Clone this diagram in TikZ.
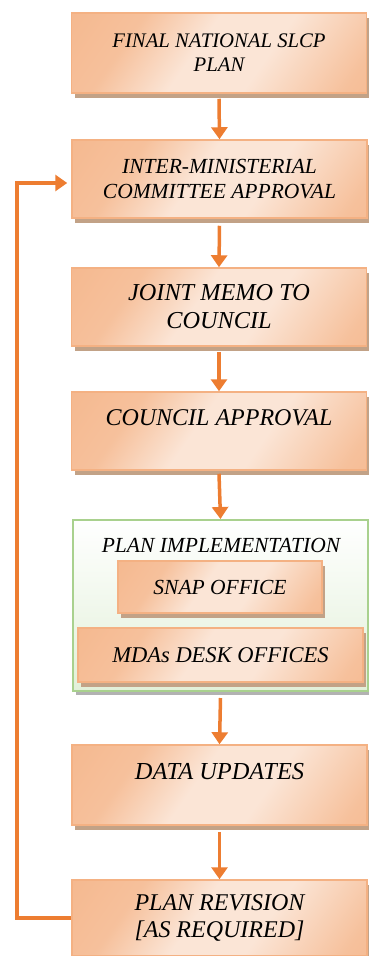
\documentclass[tikz,border=0pt]{standalone}
\usepackage{fontspec}
\setmainfont{Liberation Serif}
\usetikzlibrary{arrows.meta,positioning,shadows}
\definecolor{pdark}{HTML}{F4B183}
\definecolor{plight}{HTML}{FBE5D6}
\definecolor{pshadow}{HTML}{C2A287}
\definecolor{flowc}{HTML}{ED7D31}
\definecolor{gline}{HTML}{A9D18E}
\definecolor{gfill}{HTML}{E2F0D9}
\pgfdeclarehorizontalshading{peach}{100bp}{color(0bp)=(pdark); color(30bp)=(pdark!70!plight); color(45bp)=(plight); color(60bp)=(plight); color(80bp)=(pdark!70!plight); color(100bp)=(pdark)}
\newcommand{\boxfont}[1]{\rmfamily\itshape\fontsize{#1}{1.15\dimexpr #1pt\relax}\selectfont}
\tikzset{
  stepbox/.style={draw=pdark,line width=1.5pt,shading=peach,shading angle=-35,
    minimum width=295pt,minimum height=78pt,align=center,inner sep=2pt,
    font=\boxfont{24},
    drop shadow={shadow xshift=3pt,shadow yshift=-4.5pt,fill=pshadow,opacity=1}},
  subbox/.style={stepbox,minimum height=52pt,font=\boxfont{21.5}},
  groupbox/.style={draw=gline,line width=2pt,top color=white,bottom color=gfill,
    minimum width=295pt,minimum height=171pt,
    drop shadow={shadow xshift=3pt,shadow yshift=-4pt,fill=black!30,opacity=1}},
  flow/.style={draw=flowc,line width=3.5pt,-{Triangle[width=16pt,length=12pt]}},
}
\begin{document}
\begin{tikzpicture}[x=1pt,y=-1pt]
\useasboundingbox (0,0) rectangle (369,956);
% main chain of steps
\node[stepbox,minimum height=80pt,font=\boxfont{20.7}] (final) at (219,53) {FINAL NATIONAL SLCP\\PLAN};
\node[stepbox,font=\boxfont{21.5}] (imc) at (219.5,179) {INTER-MINISTERIAL\\COMMITTEE APPROVAL};
\node[stepbox,font=\boxfont{24.3}] (memo) at (219,307) {JOINT MEMO TO\\COUNCIL};
\node[stepbox] (council) at (219,431) {COUNCIL APPROVAL\\\mbox{}};
% implementation group
\node[groupbox] (impl) at (220.5,605.5) {};
\node[font=\boxfont{21.5}] (impltitle) at (221,545) {PLAN IMPLEMENTATION};
\node[subbox,minimum width=204pt] (snap) at (220,587) {SNAP OFFICE};
\node[subbox,minimum width=285pt,minimum height=54pt,font=\boxfont{22.5}] (mda) at (220.5,655) {MDAs DESK OFFICES};
\node[stepbox,minimum height=80pt,font=\boxfont{24.4}] (data) at (219.5,785) {DATA UPDATES\\\mbox{}};
\node[stepbox,minimum height=76pt] (rev) at (219.5,918) {PLAN REVISION\\{[AS REQUIRED]}};
% connectors
\draw[flow] (final.south) ++(0,5) -- (imc.north);
\draw[flow] (imc.south) ++(0,7) -- (memo.north);
\draw[flow] (memo.south) ++(0,5) -- (council.north);
\draw[flow] (council.south) ++(0,3) -- (impl.north);
\draw[flow] (impl.south) ++(0,6) -- (data.north);
\draw[flow] (data.south) ++(0,6) -- (rev.north);
% feedback loop
\coordinate (loopbot) at (17,918);
\coordinate (looptop) at (17,183);
\draw[flow] (rev.west) -- (loopbot) -- (looptop) -- ([xshift=-4pt]imc.west |- looptop);
\end{tikzpicture}
\end{document}
